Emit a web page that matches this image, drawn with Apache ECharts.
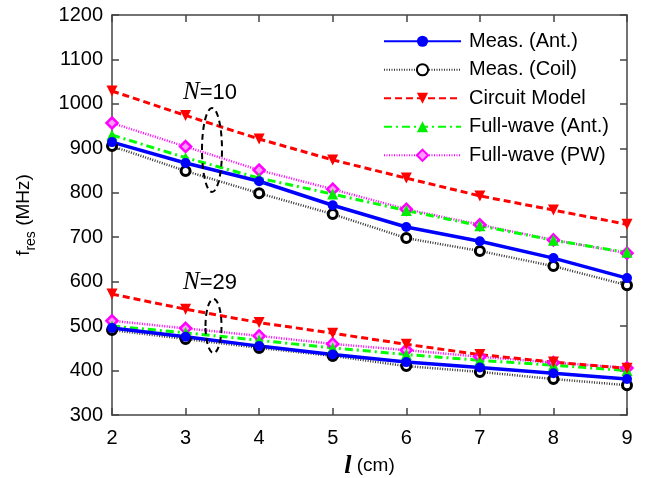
<!DOCTYPE html>
<html>
<head>
<meta charset="utf-8">
<script src="https://cdn.jsdelivr.net/npm/echarts@6/dist/echarts.min.js"></script>
<style>
  html, body { margin: 0; padding: 0; background: #fff; }
  #chart { width: 647px; height: 478px; }
</style>
</head>
<body>
<div id="chart"></div>
<script>
// coil length l (cm)
var lengths = [2, 3, 4, 5, 6, 7, 8, 9];

// N = 10
var measAnt10   = [914, 867, 826, 772, 723, 691, 653, 608];
var measCoil10  = [905, 849, 799, 752, 698, 669, 635, 592];
var circuit10   = [1029, 974, 921, 874, 833, 793, 761, 729];
var fwAnt10     = [930, 879, 833, 797, 760, 726, 693, 666];
var fwPW10      = [957, 904, 851, 808, 763, 728, 694, 664];

// N = 29
var measAnt29   = [496, 476, 455, 436, 419, 407, 394, 381];
var measCoil29  = [491, 471, 451, 433, 410, 397, 381, 367];
var circuit29   = [572, 538, 508, 484, 459, 436, 419, 405];
var fwAnt29     = [500, 485, 468, 451, 436, 423, 412, 400];
var fwPW29      = [512, 495, 478, 460, 446, 431, 418, 406];

var yTicks = [300, 400, 500, 600, 700, 800, 900, 1000, 1100, 1200];

function pairs(vals) {
  return lengths.map(function (x, i) { return [x, vals[i]]; });
}

var styles = {
  'Meas. (Ant.)': {
    color: '#0000ff', line: { width: 3.5, type: 'solid' },
    symbol: 'circle', symbolSize: 10, item: { color: '#0000ff' }
  },
  'Meas. (Coil)': {
    color: '#000000', line: { width: 2.5, type: [1, 1.5], color: '#333' },
    symbol: 'circle', symbolSize: 9, item: { color: '#fff', borderColor: '#000', borderWidth: 3 }
  },
  'Circuit Model': {
    color: '#ff0000', line: { width: 3, type: [7, 4] },
    symbol: 'triangle', symbolRotate: 180, symbolSize: 11, item: { color: '#ff0000' }
  },
  'Full-wave (Ant.)': {
    color: '#00ff00', line: { width: 3, type: [8, 4, 2, 4] },
    symbol: 'triangle', symbolSize: 11, item: { color: '#00ee00' }
  },
  'Full-wave (PW)': {
    color: '#ff00ff', line: { width: 2.5, type: [1, 1.5] },
    symbol: 'diamond', symbolSize: 11, item: { color: '#ff99ff', borderColor: '#ff00ff', borderWidth: 2.5 }
  }
};

function makeSeries(name, vals) {
  var s = styles[name];
  return {
    name: name,
    type: 'line',
    data: pairs(vals),
    symbol: s.symbol,
    symbolRotate: s.symbolRotate || 0,
    symbolSize: s.symbolSize,
    lineStyle: Object.assign({ color: s.color }, s.line),
    itemStyle: s.item,
    color: s.color,
    animation: false,
    z: 3
  };
}

var seriesList = [
  makeSeries('Full-wave (PW)', fwPW10),
  makeSeries('Full-wave (Ant.)', fwAnt10),
  makeSeries('Circuit Model', circuit10),
  makeSeries('Meas. (Coil)', measCoil10),
  makeSeries('Meas. (Ant.)', measAnt10),
  makeSeries('Full-wave (PW)', fwPW29),
  makeSeries('Full-wave (Ant.)', fwAnt29),
  makeSeries('Circuit Model', circuit29),
  makeSeries('Meas. (Coil)', measCoil29),
  makeSeries('Meas. (Ant.)', measAnt29)
];

var axisColor = '#444';
var sans = 'Liberation Sans, Arial, sans-serif';
var tickFont = { color: '#000', fontSize: 20, fontFamily: sans };

var chart = echarts.init(document.getElementById('chart'));
var option = {
  backgroundColor: '#fff',
  animation: false,
  grid: { left: 112, right: 20, top: 15, bottom: 63, outerBoundsMode: 'none', containLabel: false },
  legend: {
    orient: 'vertical',
    left: 383,
    top: 31,
    padding: 0,
    itemWidth: 77,
    itemHeight: 14,
    itemGap: 8,
    data: ['Meas. (Ant.)', 'Meas. (Coil)', 'Circuit Model', 'Full-wave (Ant.)', 'Full-wave (PW)'],
    textStyle: { color: '#000', fontSize: 20, fontFamily: sans, padding: [0, 0, 0, 3], lineHeight: 20.5 }
  },
  xAxis: [{
    type: 'value', min: 2, max: 9, interval: 1, position: 'bottom',
    name: '{l|l}{t| (cm)}', nameLocation: 'middle', nameGap: 38,
    nameTextStyle: {
      color: '#000', fontSize: 20, fontFamily: sans,
      rich: {
        l: { fontFamily: 'Liberation Serif, serif', fontStyle: 'italic', fontWeight: 'bold', fontSize: 26, color: '#000' },
        t: { fontFamily: sans, fontSize: 19, color: '#000' }
      }
    },
    axisLine: { show: true, lineStyle: { color: axisColor, width: 1.5 } },
    axisTick: { inside: true, length: 7, lineStyle: { color: axisColor, width: 1.5 } },
    axisLabel: Object.assign({ margin: 13 }, tickFont),
    splitLine: { show: false }
  }, {
    type: 'value', min: 2, max: 9, interval: 1, position: 'top',
    axisLine: { show: true, onZero: false, lineStyle: { color: axisColor, width: 1.5 } },
    axisTick: { inside: true, length: 7, lineStyle: { color: axisColor, width: 1.5 } },
    axisLabel: { show: false },
    splitLine: { show: false }
  }],
  yAxis: [{
    type: 'value', min: yTicks[0], max: yTicks[yTicks.length - 1], interval: 100, position: 'left',
    name: '{m|f}{sub|res}{m| (MHz)}', nameLocation: 'middle', nameGap: 74, nameRotate: 90,
    nameTextStyle: {
      color: '#000', fontSize: 19, fontFamily: sans,
      rich: {
        m: { fontSize: 19, fontFamily: sans, color: '#000' },
        sub: { fontSize: 14, verticalAlign: 'bottom', padding: [14, 0, 0, 0], color: '#000', fontFamily: sans }
      }
    },
    axisLine: { show: true, onZero: false, lineStyle: { color: axisColor, width: 1.5 } },
    axisTick: { inside: true, length: 7, lineStyle: { color: axisColor, width: 1.5 } },
    axisLabel: Object.assign({ margin: 9, formatter: function (v) { return String(v); } }, tickFont),
    splitLine: { show: false }
  }, {
    type: 'value', min: yTicks[0], max: yTicks[yTicks.length - 1], interval: 100, position: 'right',
    axisLine: { show: true, onZero: false, lineStyle: { color: axisColor, width: 1.5 } },
    axisTick: { inside: true, length: 7, lineStyle: { color: axisColor, width: 1.5 } },
    axisLabel: { show: false },
    splitLine: { show: false }
  }],
  series: seriesList,
  graphic: [
    {
      type: 'text', left: 183, top: 80, z: 10,
      style: {
        text: '{n|N}{r|=10}', fill: '#000',
        rich: {
          n: { fontFamily: 'Liberation Serif', fontStyle: 'italic', fontSize: 25, fill: '#000' },
          r: { fontFamily: 'Liberation Sans', fontSize: 22, fill: '#000' }
        }
      }
    },
    {
      type: 'ellipse', z: 10,
      shape: { cx: 212, cy: 150, rx: 10, ry: 42 },
      style: { fill: 'none', stroke: '#000', lineWidth: 2, lineDash: [6, 4] }
    },
    {
      type: 'text', left: 183, top: 270, z: 10,
      style: {
        text: '{n|N}{r|=29}', fill: '#000',
        rich: {
          n: { fontFamily: 'Liberation Serif', fontStyle: 'italic', fontSize: 25, fill: '#000' },
          r: { fontFamily: 'Liberation Sans', fontSize: 22, fill: '#000' }
        }
      }
    },
    {
      type: 'ellipse', z: 10,
      shape: { cx: 213.5, cy: 326, rx: 8, ry: 27 },
      style: { fill: 'none', stroke: '#000', lineWidth: 2, lineDash: [6, 4] }
    }
  ]
};
chart.setOption(option);
</script>
</body>
</html>
